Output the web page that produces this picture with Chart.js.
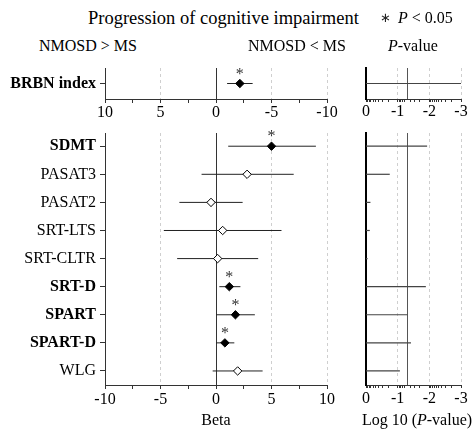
<!DOCTYPE html>
<html><head><meta charset="utf-8">
<script src="https://cdn.jsdelivr.net/npm/chart.js@4.4.1/dist/chart.umd.min.js"></script>
<style>
html,body{margin:0;padding:0;background:#fff;}
#wrap{position:relative;width:476px;height:432px;overflow:hidden;font-family:"Liberation Serif","Times New Roman",serif;font-size:16px;color:#000;}
.box{position:absolute;}
.t{position:absolute;white-space:nowrap;line-height:18px;}
</style></head><body>
<div id="wrap">
 <div class="box" style="left:0;top:58px;width:345px;height:67px"><canvas id="c1"></canvas></div>
 <div class="box" style="left:340px;top:58px;width:136px;height:67px"><canvas id="c2"></canvas></div>
 <div class="box" style="left:0;top:123px;width:345px;height:309px"><canvas id="c3"></canvas></div>
 <div class="box" style="left:340px;top:123px;width:136px;height:309px"><canvas id="c4"></canvas></div>
 <div class="t" style="left:88px;top:9px;font-size:18.5px">Progression of cognitive impairment</div>
 <div class="t" style="left:380px;top:9px;font-size:13px;color:#222">∗</div>
 <div class="t" style="left:398px;top:9px"><i>P</i> &lt; 0.05</div>
 <div class="t" style="left:39px;top:37px">NMOSD &gt; MS</div>
 <div class="t" style="left:248px;top:37px">NMOSD &lt; MS</div>
 <div class="t" style="left:388px;top:37px"><i>P</i>-value</div>
 <div class="t" style="left:166px;top:411px;width:100px;text-align:center">Beta</div>
 <div class="t" style="left:317px;top:411px;width:200px;text-align:center">Log 10 (<i>P</i>-value)</div>
</div>
<script>
// ---- data ----
const topCategories = ['BRBN index'];
const topBeta = [-2.15];
const topCiLow = [-1.0];
const topCiHigh = [-3.3];
const topSignificant = [true];
const topLog10P = [-3.0];

const categories = ['SDMT','PASAT3','PASAT2','SRT-LTS','SRT-CLTR','SRT-D','SPART','SPART-D','WLG'];
const beta = [5.0, 2.8, -0.45, 0.6, 0.15, 1.2, 1.75, 0.8, 1.95];
const ciLow = [1.1, -1.3, -3.3, -4.7, -3.5, 0.3, 0.02, 0.02, -0.3];
const ciHigh = [9.0, 7.0, 2.4, 5.9, 3.8, 2.2, 3.5, 1.65, 4.2];
const significant = [true, false, false, false, false, true, true, true, false];
const log10P = [-1.93, -0.75, -0.14, -0.12, -0.05, -1.89, -1.31, -1.42, -1.07];

const betaTickLabels = [-10, -5, 0, 5, 10];
const logPTickLabels = [0, -1, -2, -3];
const pThreshold = 0.05;

// ---- style ----
const FONT = '"Liberation Serif","Times New Roman",serif';
const AX = '#333';
const GRIDL = '#cfcfcf';
const LINE = '#222';

function zeroPad(s){ s.paddingTop = 0; s.paddingBottom = 0; s.paddingLeft = 0; s.paddingRight = 0; }

function betaScale(reverse, h, pad){
  return {
    type:'linear', min:-10, max:10, reverse: reverse,
    afterBuildTicks: s => { const t=[]; for (let v=-10; v<=10; v+=2.5) t.push({value:v}); s.ticks=t; },
    afterFit: s => { s.height = h; zeroPad(s); },
    ticks: { autoSkip:false, maxRotation:0, padding:pad, color:'#000', font:{family:FONT,size:16},
      callback: v => betaTickLabels.includes(v) ? String(v) : '' },
    grid: { drawOnChartArea:true, drawTicks:true, tickLength:4, lineWidth:1,
      color: c => !c.tick ? 'transparent' : (c.tick.value === 0 ? AX : (betaTickLabels.includes(c.tick.value) ? GRIDL : 'transparent')),
      tickColor: AX },
    border: { display:true, color:AX, width:1, dash: c => (c.tick && c.tick.value !== 0) ? [3,3] : [] }
  };
}

function logScale(h, pad){
  return {
    type:'linear', min:-3, max:0, reverse:true,
    afterBuildTicks: s => {
      const t=[];
      for (let n=0;n<3;n++){ t.push({value:-n}); for (let k=9;k>=2;k--) t.push({value: Math.log10(k)-n-1}); }
      t.push({value:-3}); t.push({value: Math.log10(pThreshold)});
      s.ticks = t.sort((a,b)=>b.value-a.value);
    },
    afterFit: s => { s.height = h; zeroPad(s); },
    ticks: { autoSkip:false, maxRotation:0, padding:pad, color:'#000', font:{family:FONT,size:16},
      callback: v => logPTickLabels.some(l => Math.abs(l - v) < 1e-9) ? String(Math.abs(v) < 1e-9 ? 0 : v) : '' },
    grid: { drawOnChartArea:true, drawTicks:true, tickLength:3, lineWidth:1,
      color: c => {
        if (!c.tick) return 'transparent';
        const v = c.tick.value;
        if (Math.abs(v - Math.log10(pThreshold)) < 1e-9) return '#555';
        if (Number.isInteger(v) && v !== 0) return GRIDL;
        return 'transparent';
      },
      tickColor: c => (c.tick && Math.abs(c.tick.value - Math.log10(pThreshold)) < 1e-9) ? 'transparent' : AX },
    border: { display:true, color:AX, width:1, dash: c => (c.tick && Number.isInteger(c.tick.value)) ? [3,3] : [] }
  };
}

function catScale(cats, sig, min, max, showLabels){
  return {
    type:'linear', min:min, max:max, reverse:true,
    afterBuildTicks: s => { s.ticks = cats.map((_,i)=>({value:i})); },
    afterFit: s => { s.width = showLabels ? 105 : 26; zeroPad(s); },
    ticks: { display: showLabels, autoSkip:false, padding:4, color:'#000',
      font: c => ({family:FONT, size:16, weight: (c.tick && sig[c.tick.value]) ? 'bold' : 'normal'}),
      callback: v => cats[v] },
    grid: { display: showLabels, drawOnChartArea:false, drawTicks:true, tickLength:5, color:AX, tickColor:AX },
    border: { display:true, color: showLabels ? AX : '#000', width: showLabels ? 1 : 2 }
  };
}

const starPlugin = {
  id:'stars',
  afterDatasetsDraw(chart, args, opts){
    if (!opts || !opts.values) return;
    const {ctx} = chart; const x = chart.scales.x, y = chart.scales.y;
    ctx.save();
    ctx.font = '16px ' + FONT; ctx.fillStyle = '#333'; ctx.textAlign = 'center'; ctx.textBaseline = 'alphabetic';
    opts.values.forEach((v,i) => { if (opts.sig[i]) ctx.fillText('*', x.getPixelForValue(v), y.getPixelForValue(i) - 5); });
    ctx.restore();
  }
};

function forestChart(id, cats, vals, lo, hi, sig, reverse, ymin, ymax, xh, pad){
  const datasets = [{
    type:'scatter', order:0,
    data: vals.map((v,i)=>({x:v, y:i})),
    pointStyle:'rectRot', pointRadius:4.2, pointHoverRadius:4.2, borderWidth:1,
    pointBorderColor:'#000', pointBackgroundColor: sig.map(s => s ? '#000' : '#fff')
  }].concat(cats.map((c,i)=>({
    type:'scatter', showLine:true, order:1,
    data:[{x:lo[i], y:i},{x:hi[i], y:i}],
    borderColor:LINE, borderWidth:1, pointRadius:0
  })));
  return new Chart(document.getElementById(id), {
    data:{datasets},
    options:{
      responsive:true, maintainAspectRatio:false, animation:false, events:[],
      layout:{padding:{top:10, right:18, left:0, bottom:0}},
      scales:{ x: betaScale(reverse, xh, pad), y: catScale(cats, sig, ymin, ymax, true) },
      plugins:{ legend:{display:false}, tooltip:{enabled:false}, stars:{values:vals, sig:sig} }
    },
    plugins:[starPlugin]
  });
}

function pChart(id, cats, lp, ymin, ymax, xh, pad){
  const datasets = cats.map((c,i)=>({
    type:'scatter', showLine:true,
    data:[{x:0, y:i},{x:lp[i], y:i}],
    borderColor:'#444', borderWidth:1.2, pointRadius:0
  }));
  return new Chart(document.getElementById(id), {
    data:{datasets},
    options:{
      responsive:true, maintainAspectRatio:false, animation:false, events:[],
      layout:{padding:{top:10, right:15, left:0, bottom:0}},
      scales:{ x: logScale(xh, pad), y: catScale(cats, [], ymin, ymax, false) },
      plugins:{ legend:{display:false}, tooltip:{enabled:false} }
    }
  });
}

forestChart('c1', topCategories, topBeta, topCiLow, topCiHigh, topSignificant, true, -1, 1, 26, 0);
pChart('c2', topCategories, topLog10P, -1, 1, 26, 0);
forestChart('c3', categories, beta, ciLow, ciHigh, significant, false, -0.47, 8.5, 47, 1.5);
pChart('c4', categories, log10P, -0.47, 8.5, 47, 1.5);
</script>
</body></html>
